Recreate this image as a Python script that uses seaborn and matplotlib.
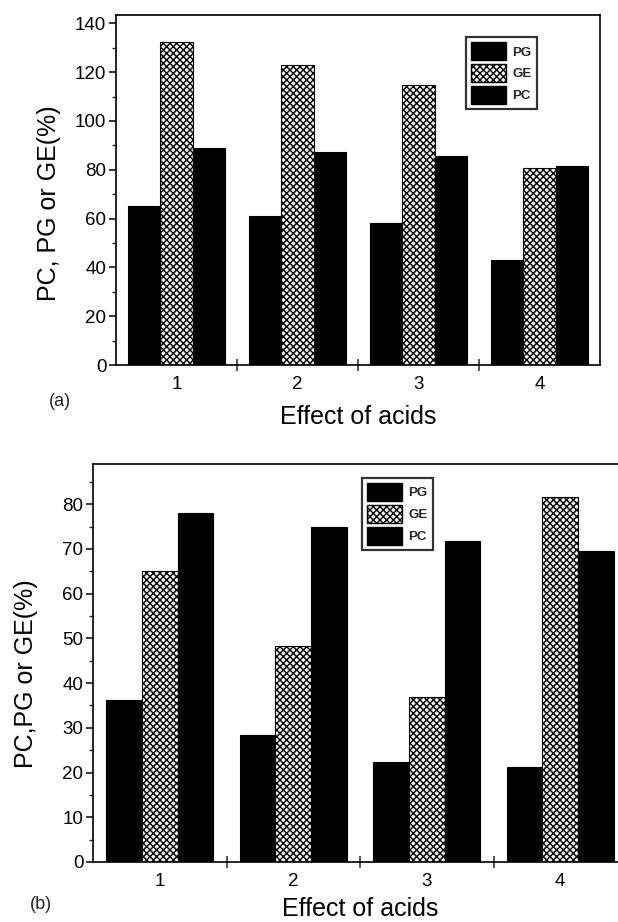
import matplotlib
matplotlib.use("Agg")
import matplotlib.pyplot as plt
from matplotlib.patches import Patch
from matplotlib.ticker import MultipleLocator
import seaborn as sns
import pandas as pd

# ---- data ----
acids = ["1", "2", "3", "4"]
series = ["PG", "GE", "PC"]

pg_a = [65.0, 61.0, 58.3, 43.0]
ge_a = [132.2, 122.9, 114.8, 80.8]
pc_a = [89.1, 87.4, 85.8, 81.6]

pg_b = [36.3, 28.3, 22.4, 21.2]
ge_b = [65.1, 48.4, 36.8, 81.5]
pc_b = [78.1, 75.0, 71.7, 69.6]

ylabel_a = "PC, PG or GE(%)"
ylabel_b = "PC,PG or GE(%)"
xlabel = "Effect of acids"


def long_df(pg, ge, pc):
    rows = []
    for name, vals in zip(series, [pg, ge, pc]):
        for a, v in zip(acids, vals):
            rows.append({"acid": a, "series": name, "value": v})
    return pd.DataFrame(rows)


sns.set_theme(style="ticks")
plt.rcParams["font.family"] = ["Liberation Sans", "DejaVu Sans"]
plt.rcParams["hatch.linewidth"] = 1.0
plt.rcParams["hatch.color"] = "black"

fig = plt.figure(figsize=(6.18, 9.22), dpi=100)
ax_a = fig.add_axes([0.1877, 0.6041, 0.7832, 0.3796])
ax_b = fig.add_axes([0.1505, 0.0651, 0.8641, 0.4317])

palette = {"PG": "black", "GE": "white", "PC": "black"}
HATCH = "xxxxx"


def draw(ax, df, ymax, major, minor, ylabel, leg_anchor, ylab_xy, xlab_y):
    sns.barplot(data=df, x="acid", y="value", hue="series", order=acids,
                hue_order=series, palette=palette, edgecolor="black",
                linewidth=0.8, saturation=1, legend=False, ax=ax, errorbar=None)
    for bar in ax.containers[1]:
        bar.set_hatch(HATCH)
        bar.set_facecolor("#f2f2f2")
    ax.set_xlim(-0.5, 3.5)
    ax.set_ylim(0, ymax)
    ax.yaxis.set_major_locator(MultipleLocator(major))
    ax.yaxis.set_minor_locator(MultipleLocator(minor))
    ax.set_xticks(range(4))
    ax.set_xticklabels(acids)
    ax.set_xticks([0.5, 1.5, 2.5], minor=True)
    ax.tick_params(axis="x", which="major", length=0, labelsize=13.5, pad=8,
                   colors="black")
    ax.tick_params(axis="x", which="minor", length=8, width=1.1,
                   direction="inout")
    ax.tick_params(axis="y", which="major", length=5, width=1.1,
                   direction="out", labelsize=13.5, pad=2, colors="black")
    ax.tick_params(axis="y", which="minor", length=3, width=1.0,
                   direction="out")
    for s in ax.spines.values():
        s.set_visible(True)
        s.set_linewidth(1.2)
        s.set_color("black")
    ax.set_ylabel(ylabel, fontsize=18, color="black")
    ax.yaxis.set_label_coords(*ylab_xy)
    ax.yaxis.label.set_va("center")
    ax.set_xlabel(xlabel, fontsize=18, color="black")
    ax.xaxis.set_label_coords(0.5, xlab_y)
    ax.xaxis.label.set_va("center")
    handles = [Patch(facecolor="black", edgecolor="black", label="PG"),
               Patch(facecolor="#f2f2f2", edgecolor="black", hatch=HATCH, label="GE"),
               Patch(facecolor="black", edgecolor="black", label="PC")]
    leg = ax.legend(handles=handles, loc="upper left", bbox_to_anchor=leg_anchor,
                    borderaxespad=0, fancybox=False, frameon=True,
                    edgecolor="black", prop={"weight": "bold", "size": 9.5},
                    handlelength=2.6, handleheight=1.7, labelspacing=0.3,
                    borderpad=0.4, handletextpad=0.5)
    leg.get_frame().set_linewidth(1.6)


draw(ax_a, long_df(pg_a, ge_a, pc_a), 143.4, 20, 10, ylabel_a,
     (0.723, 0.937), (-0.138, 0.463), -0.149)
draw(ax_b, long_df(pg_b, ge_b, pc_b), 89.0, 10, 5, ylabel_b,
     (0.504, 0.965), (-0.125, 0.472), -0.118)

fig.text(0.097, 0.564, "(a)", fontsize=13, ha="center", va="center")
fig.text(0.066, 0.0195, "(b)", fontsize=13, ha="center", va="center")

fig.savefig("out.png", dpi=100)
